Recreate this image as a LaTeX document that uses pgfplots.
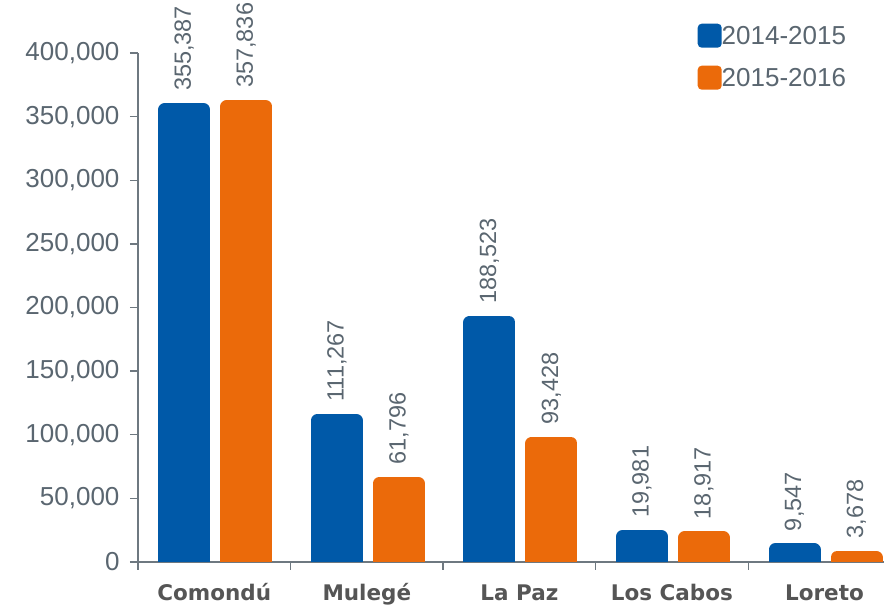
\documentclass[border=0pt]{standalone}
\usepackage{pgfplots}
\pgfplotsset{compat=1.18}
\usepackage{fontspec}
\setmainfont{Liberation Sans}
\newfontfamily\catfont{DejaVu Sans}
\definecolor{cblue}{RGB}{0,89,168}
\definecolor{corange}{RGB}{235,106,10}
\definecolor{tgray}{RGB}{90,102,112}
\definecolor{lgray}{RGB}{85,85,85}
\definecolor{agray}{RGB}{110,120,128}
\begin{document}
\begin{tikzpicture}
\begin{axis}[
  at={(138pt,48pt)}, anchor=south west,
  scale only axis, width=746pt, height=509pt,
  xmin=-0.5, xmax=4.39, ymin=0, ymax=400000,
  ybar, bar width=39pt,
  axis x line*=bottom, axis y line*=left,
  axis line style={agray, line width=1.3pt},
  tick style={agray, line width=1.3pt},
  major tick length=8pt, tick align=outside,
  ytick={0,50000,...,400000},
  scaled y ticks=false,
  /pgf/number format/.cd, fixed, precision=0, 1000 sep={,}, assume math mode=true, /pgfplots/.cd,
  yticklabel style={font=\fontsize{26}{30}\selectfont, text=tgray, xshift=-7pt},
  xtick={-0.5,0.5,1.5,2.5,3.5}, xticklabels={},
  extra x ticks={0,1,2,3,4},
  extra x tick labels={Comondú,Mulegé,La Paz,Los Cabos,Loreto},
  extra x tick style={major tick length=0pt, tick label style={font=\catfont\bfseries\fontsize{21.5}{25}\selectfont, text=lgray, text height=17pt, text depth=4pt, yshift=-18pt}},
  nodes near coords,
  every node near coord/.append style={font=\fontsize{23.5}{28}\selectfont, text=tgray, yshift=9pt, rotate=90, anchor=west},
  legend style={draw=none, fill=none, at={(0.75,1.058)}, anchor=north west,
    font=\fontsize{26}{30}\selectfont, text=tgray, row sep=18pt, inner sep=0pt,
    nodes={inner sep=0pt},
    /tikz/every even column/.append style={column sep=0pt}},
]
\addplot[bar shift=-30pt, fill=cblue, draw=cblue, line width=13pt, line join=round,
  legend image code/.code={\fill[cblue, draw=none, rounded corners=4pt] (0pt,-12pt) rectangle (24pt,12pt);}]
  coordinates {(0,355387) (1,111267) (2,188523) (3,19981) (4,9547)};
\addlegendentry{2014-2015}
\addplot[bar shift=32pt, fill=corange, draw=corange, line width=13pt, line join=round,
  legend image code/.code={\fill[corange, draw=none, rounded corners=4pt] (0pt,-12pt) rectangle (24pt,12pt);}]
  coordinates {(0,357836) (1,61796) (2,93428) (3,18917) (4,3678)};
\addlegendentry{2015-2016}
\end{axis}
\pgfresetboundingbox
\path (0,0) rectangle (884pt,610pt);
\end{tikzpicture}
\end{document}
